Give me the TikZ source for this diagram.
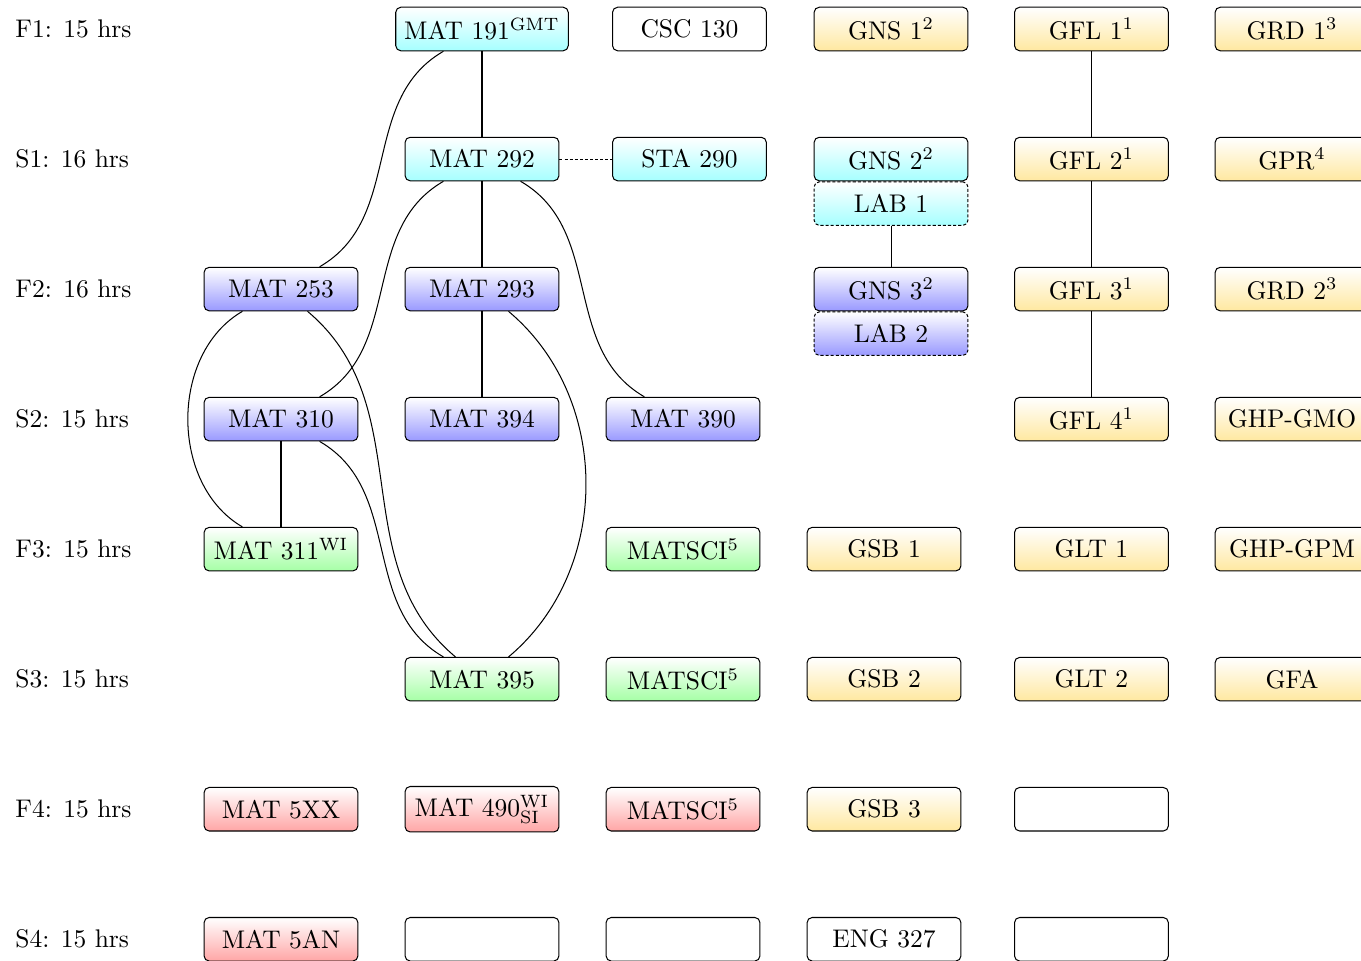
\documentclass[tikz,border=0pt]{standalone}
\usepackage{amsmath,amssymb}
\usepackage{tikz}
\usetikzlibrary{positioning}
\definecolor{genyellow}{RGB}{255,232,160}

\begin{document}
\begin{tikzpicture}[x=2.770cm, y=-1.792cm,
  course/.style={draw, rounded corners=2pt, minimum width=2.12cm, minimum height=0.6cm},
  fresh/.style={course, top color=white, bottom color=cyan!35},
  core/.style={course, top color=white, bottom color=blue!40},
  upper/.style={course, top color=white, bottom color=green!35},
  senior/.style={course, top color=white, bottom color=red!35},
  gened/.style={course, top color=white, bottom color=genyellow},
  labbox/.style={dash pattern=on 1.2pt off 0.8pt},
  term/.style={anchor=west}]
\useasboundingbox (-0.398,-0.223) rectangle (6.373,7.162);

% Semester labels
\node[term] (f1) at (-0.366,0) {F1: 15 hrs};
\node[term] (s1) at (-0.366,1) {S1: 16 hrs};
\node[term] (f2) at (-0.366,2) {F2: 16 hrs};
\node[term] (s2) at (-0.366,3) {S2: 15 hrs};
\node[term] (f3) at (-0.366,4) {F3: 15 hrs};
\node[term] (s3) at (-0.366,5) {S3: 15 hrs};
\node[term] (f4) at (-0.366,6) {F4: 15 hrs};
\node[term] (s4) at (-0.366,7) {S4: 15 hrs};

% F1
\node[fresh] (mat191) at (2,0) {MAT 191\textsuperscript{GMT}};
\node[course] (csc130) at (3.032,0) {CSC 130};
\node[gened] (gns1) at (4.035,0) {GNS 1$^2$};
\node[gened] (gfl1) at (5.032,0) {GFL 1$^1$};
\node[gened] (grd1) at (6.03,0) {GRD 1$^3$};

% S1
\node[fresh] (mat292) at (2,1) {MAT 292};
\node[fresh] (sta290) at (3.032,1) {STA 290};
\node[fresh] (gns2) at (4.035,1) {GNS 2$^2$};
\node[fresh, labbox, below=0pt of gns2] (lab1) {LAB 1};
\node[gened] (gfl2) at (5.032,1) {GFL 2$^1$};
\node[gened] (gpr) at (6.03,1) {GPR$^4$};

% F2
\node[core] (mat253) at (1,2) {MAT 253};
\node[core] (mat293) at (2,2) {MAT 293};
\node[core] (gns3) at (4.035,2) {GNS 3$^2$};
\node[core, labbox, below=0pt of gns3] (lab2) {LAB 2};
\node[gened] (gfl3) at (5.032,2) {GFL 3$^1$};
\node[gened] (grd2) at (6.03,2) {GRD 2$^3$};

% S2
\node[core] (mat310) at (1,3) {MAT 310};
\node[core] (mat394) at (2,3) {MAT 394};
\node[core] (mat390) at (3,3) {MAT 390};
\node[gened] (gfl4) at (5.032,3) {GFL 4$^1$};
\node[gened] (ghpgmo) at (6.03,3) {GHP-GMO};

% F3
\node[upper] (mat311) at (1,4) {MAT 311\textsuperscript{WI}};
\node[upper] (matsci1) at (3,4) {MATSCI$^5$};
\node[gened] (gsb1) at (4,4) {GSB 1};
\node[gened] (glt1) at (5.032,4) {GLT 1};
\node[gened] (ghpgpm) at (6.03,4) {GHP-GPM};

% S3
\node[upper] (mat395) at (2,5) {MAT 395};
\node[upper] (matsci2) at (3,5) {MATSCI$^5$};
\node[gened] (gsb2) at (4,5) {GSB 2};
\node[gened] (glt2) at (5.032,5) {GLT 2};
\node[gened] (gfa) at (6.03,5) {GFA};

% F4
\node[senior] (mat5xx) at (1,6) {MAT 5XX};
\node[senior] (mat490) at (2,6) {MAT 490$^{\mathrm{WI}}_{\mathrm{SI}}$};
\node[senior] (matsci3) at (3,6) {MATSCI$^5$};
\node[gened] (gsb3) at (4,6) {GSB 3};
\node[course] (free1) at (5.032,6) {};

% S4
\node[senior] (mat5an) at (1,7) {MAT 5AN};
\node[course] (free2) at (2,7) {};
\node[course] (free3) at (3,7) {};
\node[course] (eng327) at (4,7) {ENG 327};
\node[course] (free4) at (5.032,7) {};

% Prerequisites
\draw (mat191) -- (mat292);
\draw[labbox] (mat292) -- (sta290);
\draw (mat292) -- (mat293);
\draw (mat293) -- (mat394);
\draw (mat191) to[out=-150, in=30] (mat253);
\draw (mat292) to[out=-150, in=30] (mat310);
\draw (mat292) to[out=-30, in=150] (mat390);
\draw (mat253) to[out=-150, in=150] (mat311);
\draw (mat253) to[out=-40, in=140] (mat395);
\draw (mat310) -- (mat311);
\draw (mat310) to[out=-30, in=150] (mat395);
\draw (mat293) to[out=-40, in=40] (mat395);
\draw (lab1) -- (gns3);
\draw (gfl1) -- (gfl2);
\draw (gfl2) -- (gfl3);
\draw (gfl3) -- (gfl4);
\end{tikzpicture}
\end{document}
